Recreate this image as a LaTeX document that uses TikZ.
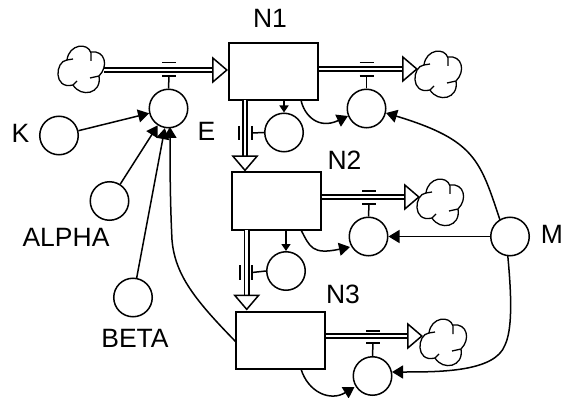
\documentclass[tikz,border=0pt]{standalone}
\usepackage{fontspec}
\setmainfont{Liberation Sans}
\usetikzlibrary{arrows.meta}
\tikzset{
  x=1pt,y=-1pt,
  lbl/.style={inner sep=0pt,font=\fontsize{26.5}{28}\selectfont},
  stock/.style={draw,line width=2pt,minimum width=89pt,minimum height=57pt,inner sep=0pt},
  conv/.style={draw,circle,line width=1.5pt,minimum size=38.5pt,inner sep=0pt},
  sky/.style={inner sep=0pt,minimum width=46pt,minimum height=46pt},
  pipe/.style={double,double distance=2.8pt,line width=1.8pt,
    -{Triangle[open,length=16pt,width=27pt,line width=1.5pt,fill=white]}},
  link/.style={line width=1.5pt,-{Triangle[length=11pt,width=13pt]}},
  shortlink/.style={line width=1.5pt,-{Triangle[length=7pt,width=9pt]}},
  tick/.style={line width=1.8pt},
  stem/.style={line width=1.5pt},
  cloudline/.style={line width=1.3pt},
  pics/cloudshape/.style={code={
    \draw[cloudline] (-14,-10) .. controls (-12,-26) and (7,-28) .. (10,-17) -- (10,-9);
    \draw[cloudline] (-14,-10) -- (-8,-11);
    \draw[cloudline] (10,-18) .. controls (24,-20) and (28,-4) .. (18,6) -- (9,8);
    \draw[cloudline] (18,6) .. controls (21,24) and (0,28) .. (-8,15);
    \draw[cloudline] (-8,15) -- (-4,11);
    \draw[cloudline] (-8,15) .. controls (-28,20) and (-26,-9) .. (-14,-10);
  }}
}
\begin{document}
\begin{tikzpicture}
\useasboundingbox (0,0) rectangle (562,398);
% stocks
\node[stock] (n1) at (273.5,72) {};
\node[stock] (n2) at (276,201) {};
\node[stock] (n3) at (280.5,340) {};
% converters
\node[conv] (e) at (168.5,108.5) {};
\node[conv] (k) at (59,135.5) {};
\node[conv] (alpha) at (109.5,201) {};
\node[conv] (beta) at (133,297.5) {};
\node[conv] (r1) at (366.5,108.5) {};
\node[conv] (r2) at (368.5,236.5) {};
\node[conv] (r3) at (372.5,376) {};
\node[conv] (a1) at (284,132.5) {};
\node[conv] (a2) at (286,271) {};
\node[conv] (m) at (510,236.5) {};
% clouds
\node[sky] (c0) at (81,70) {};
\node[sky] (c1) at (438,75) {};
\node[sky] (c2) at (440,203) {};
\node[sky] (c3) at (443,343) {};
\pic at (c0) {cloudshape};
\pic at (c1) {cloudshape};
\pic at (c2) {cloudshape};
\pic at (c3) {cloudshape};
% labels
\node[lbl] (ln1) at (270,18) {N1};
\node[lbl] (ln2) at (344.5,160) {N2};
\node[lbl] (ln3) at (343,294) {N3};
\node[lbl] (lk) at (20.5,133.5) {K};
\node[lbl] (le) at (206.5,131) {E};
\node[lbl] (la) at (66,237.5) {ALPHA};
\node[lbl] (lb) at (135,338.5) {BETA};
\node[lbl] (lm) at (552,234) {M};
% pipe ends
\coordinate (p0) at (104,70);
\coordinate (p1) at (418,69);
\coordinate (p2) at (420,197);
\coordinate (p3) at (423,336);
\coordinate (v1) at (245,100);
\coordinate (v2) at (246.7,230);
% pipes
\draw[pipe] (p0) -- (p0 -| n1.west);
\draw[pipe] (n1.east |- p1) -- (p1);
\draw[pipe] (n2.east |- p2) -- (p2);
\draw[pipe] (n3.east |- p3) -- (p3);
\draw[pipe] (v1) -- (v1 |- n2.north);
\draw[pipe] (v2) -- (v2 |- n3.north);
% valve marks and stems
\draw[tick] (162,62.5) -- (176,62.5);
\draw[tick] (359.5,62.5) -- (373.5,62.5);
\draw[tick] (362,191) -- (376,191);
\draw[tick] (366,331) -- (380,331);
\draw[tick] (238.7,126) -- (238.7,140);
\draw[tick] (240,265) -- (240,280);
\coordinate (s0) at (169,76);
\coordinate (s1) at (366.5,76);
\coordinate (s2) at (369,204);
\coordinate (s3) at (373,343);
\coordinate (s4) at (251.7,133);
\coordinate (s5) at (252,272.5);
\draw[stem] (e.north) -- (s0);
\draw[stem] (r1.north) -- (s1);
\draw[stem] (r2.north) -- (s2);
\draw[stem] (r3.north) -- (s3);
\draw[stem] (a1.west) -- (s4);
\draw[stem] (a2.west) -- (s5);
\draw[tick] (162,76) -- (176,76);
\draw[tick] (359.5,76) -- (373.5,76);
\draw[tick] (362,204) -- (376,204);
\draw[tick] (366,343) -- (380,343);
\draw[tick] (251.7,126) -- (251.7,140);
\draw[tick] (252,265) -- (252,280);
% information links
\draw[link] (k) -- (e);
\draw[link] (alpha) -- (e);
\draw[link] (beta) -- (e);
\draw[shortlink] (n1.south -| a1) -- (a1);
\draw[shortlink] (n2.south -| a2) -- (a2);
\coordinate (f1) at (301,100);
\coordinate (f2) at (301,230);
\coordinate (f3) at (301,369);
\coordinate (f4) at (236,342);
\coordinate (t1) at (348,116);
\coordinate (t2) at (350,247);
\coordinate (t3) at (354.5,387);
\coordinate (t4) at (170,127);
\coordinate (t5) at (386,113);
\coordinate (m1) at (500,220);
\coordinate (m3) at (507.7,255);
\draw[link] (f1) .. controls (304,115) and (318,130) .. (t1);
\draw[link] (f2) .. controls (310,247) and (312,255) .. (t2);
\draw[link] (f3) .. controls (308,392) and (330,402) .. (t3);
\draw[link] (f4) .. controls (195,300) and (175,275) .. (172,240) .. controls (170,200) and (170,160) .. (t4);
\draw[link] (m1) .. controls (480,160) and (475,140) .. (t5);
\draw[link] (m) -- (r2);
\draw[link] (m3) .. controls (512,300) and (512,330) .. (505,345) .. controls (495,372) and (440,372) .. (392,372);
\end{tikzpicture}
\end{document}
